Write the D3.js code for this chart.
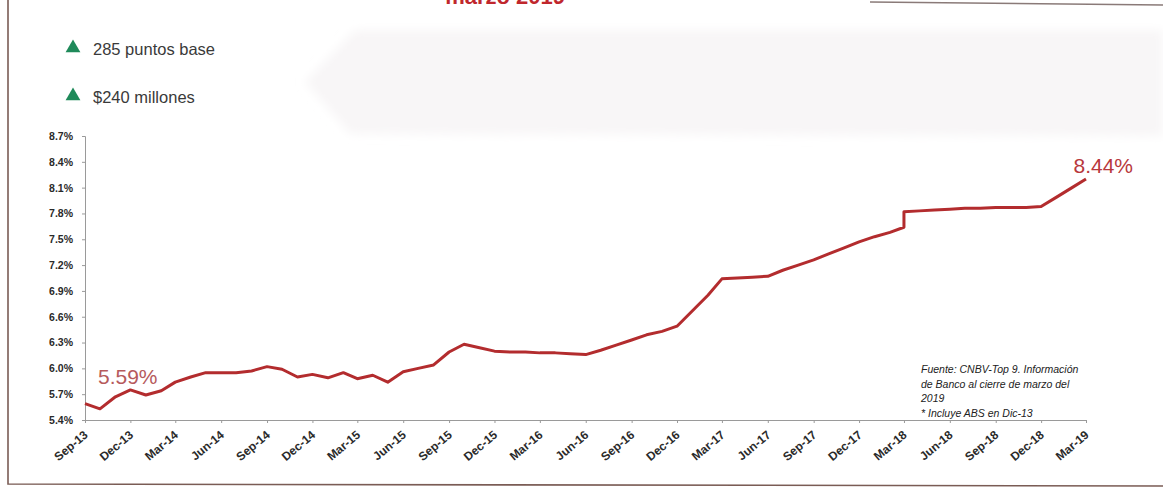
<!DOCTYPE html>
<html lang="es">
<head>
    <meta charset="UTF-8">
    <title>tasa-marzo-2019</title>
    <style>
        body {
            margin: 0;
            background: #fff;
            font-family: "Liberation Sans", Arial, sans-serif;
        }
    </style>
    <script src="https://d3js.org/d3.v7.min.js"></script>
</head>
<body>
<script>

    // monthly series, Sep-13 .. Mar-19 (Mar-18 appears twice: step up)
    let months = [
        "2013-09", "2013-10", "2013-11", "2013-12", "2014-01", "2014-02", "2014-03", "2014-04",
        "2014-05", "2014-06", "2014-07", "2014-08", "2014-09", "2014-10", "2014-11", "2014-12",
        "2015-01", "2015-02", "2015-03", "2015-04", "2015-05", "2015-06", "2015-07", "2015-08",
        "2015-09", "2015-10", "2015-11", "2015-12", "2016-01", "2016-02", "2016-03", "2016-04",
        "2016-05", "2016-06", "2016-07", "2016-08", "2016-09", "2016-10", "2016-11", "2016-12",
        "2017-01", "2017-02", "2017-03", "2017-04", "2017-05", "2017-06", "2017-07", "2017-08",
        "2017-09", "2017-10", "2017-11", "2017-12", "2018-01", "2018-02", "2018-03", "2018-03",
        "2018-04", "2018-05", "2018-06", "2018-07", "2018-08", "2018-09", "2018-10", "2018-11",
        "2018-12", "2019-01", "2019-02", "2019-03"
    ];
    let rates = [
        5.59, 5.53, 5.67, 5.75, 5.69, 5.74, 5.84, 5.90,
        5.95, 5.95, 5.95, 5.97, 6.02, 5.99, 5.90, 5.93,
        5.89, 5.95, 5.88, 5.92, 5.84, 5.96, 6.00, 6.04,
        6.19, 6.28, 6.24, 6.20, 6.19, 6.19, 6.18, 6.18,
        6.17, 6.16, 6.21, 6.27, 6.33, 6.39, 6.43, 6.49,
        6.67, 6.85, 7.04, 7.05, 7.06, 7.07, 7.14, 7.20,
        7.26, 7.33, 7.40, 7.47, 7.53, 7.58, 7.64, 7.82,
        7.83, 7.84, 7.85, 7.86, 7.86, 7.87, 7.87, 7.87,
        7.88, 7.99, 8.10, 8.20
    ];
    let xTickLabels = [
        "Sep-13", "Dec-13", "Mar-14", "Jun-14", "Sep-14", "Dec-14", "Mar-15", "Jun-15",
        "Sep-15", "Dec-15", "Mar-16", "Jun-16", "Sep-16", "Dec-16", "Mar-17", "Jun-17",
        "Sep-17", "Dec-17", "Mar-18", "Jun-18", "Sep-18", "Dec-18", "Mar-19"
    ];
    let yTicks = [5.4, 5.7, 6.0, 6.3, 6.6, 6.9, 7.2, 7.5, 7.8, 8.1, 8.4, 8.7];
    let bullets = ["285 puntos base", "$240 millones"];
    let startLabel = "5.59%";
    let endLabel = "8.44%";
    let notes = [
        "Fuente: CNBV-Top 9. Información",
        "de Banco al cierre de marzo del",
        "2019",
        "*  Incluye ABS en Dic-13"
    ];

    let width = 1163;
    let height = 497;
    let lineColor = "#b32c2e";
    let narrow = "'Liberation Sans Narrow', 'Liberation Sans', Arial, sans-serif";
    let parseMonth = d3.timeParse("%Y-%m");
    let parseTick = d3.timeParse("%b-%y");

    let data = months.map(function (m, i) {
        return {date: parseMonth(m), value: rates[i]};
    });
    let xTickDates = xTickLabels.map(parseTick);

    let svg = d3.select("body").append("svg")
        .attr("width", width)
        .attr("height", height);

    let defs = svg.append("defs");
    defs.append("filter")
        .attr("id", "soft")
        .append("feGaussianBlur")
        .attr("stdDeviation", 5);

    // faint grey banner behind the bullets (from the slide)
    svg.append("path")
        .attr("d", "M305,82 L355,30 L1163,30 L1163,136 L350,134 Z")
        .attr("fill", "#f8f6f7")
        .attr("filter", "url(#soft)");

    // frame of the slide
    svg.append("path")
        .attr("d", "M8,0 L8,484 L1163,486")
        .attr("fill", "none")
        .attr("stroke", "#7a5c55")
        .attr("stroke-width", 1.6);
    svg.append("line")
        .attr("x1", 870).attr("y1", 2)
        .attr("x2", 1163).attr("y2", 5)
        .attr("stroke", "#8a7a78")
        .attr("stroke-width", 1.5);

    // slide title, cut by the top edge as in the photo
    svg.append("text")
        .attr("x", 565)
        .attr("y", 4)
        .attr("text-anchor", "end")
        .attr("fill", "#c0272d")
        .style("font-size", "22px")
        .style("font-weight", "bold")
        .text("marzo 2019");

    // bullets with green triangles
    let bullet = svg.append("g")
        .selectAll("g")
        .data(bullets)
        .enter()
        .append("g")
        .attr("transform", function (d, i) {
            return "translate(0," + (49 + i * 48) + ")";
        });
    bullet.append("path")
        .attr("d", d3.symbol().type(d3.symbolTriangle).size(95))
        .attr("transform", "translate(73,-1)")
        .attr("fill", "#1f8a5a");
    bullet.append("text")
        .attr("x", 93)
        .attr("y", 6)
        .attr("fill", "#3a3a3a")
        .style("font-size", "16.5px")
        .text(function (d) { return d; });

    // scales
    let x = d3.scaleTime()
        .domain([parseMonth("2013-09"), parseMonth("2019-03")])
        .range([85, 1086]);
    let y = d3.scaleLinear()
        .domain([5.4, 8.7])
        .range([420, 136]);

    // y axis
    let yAxis = svg.append("g")
        .attr("transform", "translate(85,0)")
        .call(d3.axisLeft(y)
            .tickValues(yTicks)
            .tickSize(3)
            .tickPadding(9)
            .tickFormat(function (d) { return d.toFixed(1) + "%"; }));
    yAxis.select(".domain").attr("stroke", "#9a9a9a");
    yAxis.selectAll(".tick line").attr("stroke", "#9a9a9a");
    yAxis.selectAll("text")
        .attr("fill", "#2a2a2a")
        .style("font-family", narrow)
        .style("font-size", "10.5px")
        .style("font-weight", "bold");

    // x axis, labels drawn diagonally
    let xAxis = svg.append("g")
        .attr("transform", "translate(0,420)")
        .call(d3.axisBottom(x)
            .tickValues(xTickDates)
            .tickSize(3)
            .tickSizeOuter(0)
            .tickFormat(""));
    xAxis.select(".domain").attr("stroke", "#9a9a9a");
    xAxis.selectAll(".tick line").attr("stroke", "#9a9a9a");
    xAxis.selectAll(".tick text").remove();

    svg.append("g")
        .selectAll("text")
        .data(xTickLabels)
        .enter()
        .append("text")
        .attr("transform", function (d, i) {
            return "translate(" + (x(xTickDates[i]) + 1) + ",433) rotate(-40)";
        })
        .attr("text-anchor", "end")
        .attr("dy", "0.35em")
        .attr("fill", "#2a2a2a")
        .style("font-family", narrow)
        .style("font-size", "12px")
        .style("font-weight", "bold")
        .text(function (d) { return d; });

    // series line
    let line = d3.line()
        .x(function (d) { return x(d.date); })
        .y(function (d) { return y(d.value); });

    svg.append("path")
        .datum(data)
        .attr("d", line)
        .attr("fill", "none")
        .attr("stroke", lineColor)
        .attr("stroke-width", 3)
        .attr("stroke-linejoin", "round");

    // start / end annotations
    svg.append("text")
        .attr("x", x(data[0].date) + 13)
        .attr("y", 384)
        .attr("fill", "#b65a5c")
        .style("font-size", "21px")
        .text(startLabel);
    svg.append("text")
        .attr("x", x(data[data.length - 1].date) + 47)
        .attr("y", 173)
        .attr("text-anchor", "end")
        .attr("fill", "#b8383c")
        .style("font-size", "21px")
        .text(endLabel);

    // source note
    svg.append("g")
        .selectAll("text")
        .data(notes)
        .enter()
        .append("text")
        .attr("x", 921)
        .attr("y", function (d, i) { return 373 + i * 14.5; })
        .attr("fill", "#222")
        .style("font-size", "10.5px")
        .style("font-style", "italic")
        .text(function (d) { return d; });

</script>
</body>
</html>
